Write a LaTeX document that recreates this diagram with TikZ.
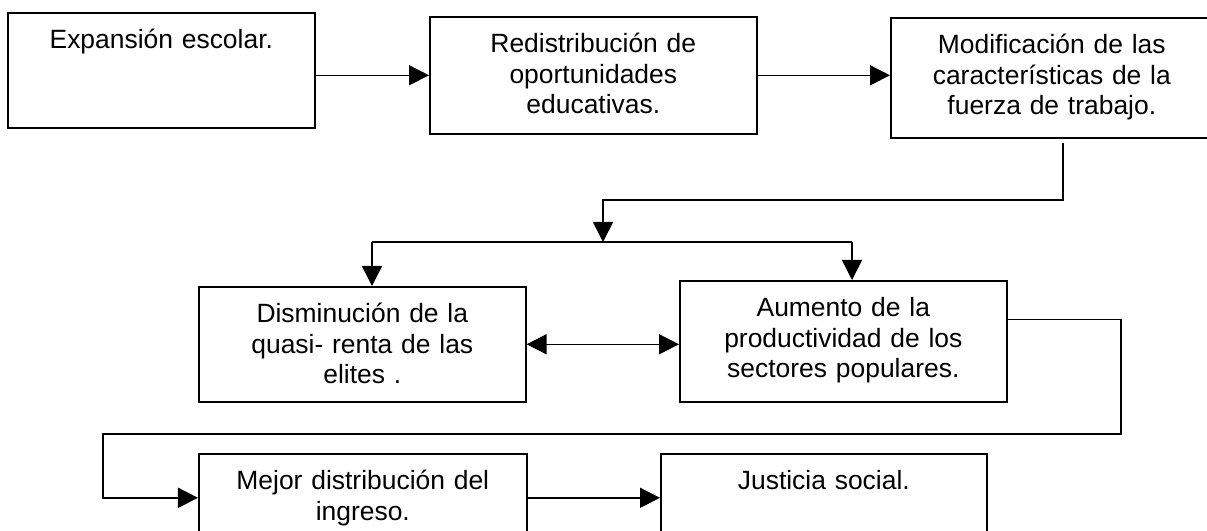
\documentclass[tikz,border=0pt]{standalone}
\usepackage{fontspec}
\setmainfont{Liberation Sans}
\usetikzlibrary{arrows.meta}

\tikzset{
  box/.style={draw, rectangle, line width=1.1pt, anchor=north west, align=center,
    inner xsep=0pt, inner ysep=0pt, text height=0.9cm,
    font=\fontsize{18.8pt}{21.7pt}\selectfont},
  arr/.style={-{Triangle[length=0.5cm, width=0.5cm]}, line width=1.1pt},
  biarr/.style={{Triangle[length=0.5cm, width=0.5cm]}-{Triangle[length=0.5cm, width=0.5cm]}, line width=1.1pt}
}

\begin{document}
\begin{tikzpicture}[x=0.025cm, y=-0.025cm]
    \clip (0,0) rectangle (1207,531);

    \node (EXP_ESC) [box, text width=7.675cm, text depth=1.975cm] at (7,12) {Expansión escolar.};
    \node (RED_OPO) [box, text width=8.175cm, text depth=2.025cm] at (429,16) {Redistribución de\\oportunidades\\educativas.};
    \node (MOD_FUE) [box, text width=8.05cm, text depth=2.1cm] at (890,17) {Modificación de las\\características de la\\fuerza de trabajo.};

    \node (DIS_QUA) [box, text width=8.175cm, text depth=1.975cm] at (198,286) {Disminución de la\\quasi- renta de las\\elites .};
    \node (AUM_PRO) [box, text width=8.175cm, text depth=2.125cm] at (679,280) {Aumento de la\\productividad de los\\sectores populares.};

    \node (MEJ_DIS) [box, text width=8.2cm, text depth=1.3cm] at (198,453) {Mejor distribución del\\ingreso.};
    \node (JUS_SOC) [box, text width=8.15cm, text depth=1.3cm] at (660,453) {Justicia social.};

    \draw [arr] (EXP_ESC.east |- RED_OPO.west) -- (RED_OPO.west);
    \draw [arr] (RED_OPO.east) -- (RED_OPO.east -| MOD_FUE.west);

    \coordinate (MOD_OUT) at (1063,143);
    \coordinate (SPLIT) at (603,242);
    \coordinate (BR_L) at (372,242);
    \coordinate (BR_R) at (852,242);

    \draw [arr] (MOD_OUT) -- ++(0,57) -| (SPLIT);
    \draw [line width=1.1pt] (BR_L) -- (BR_R);
    \draw [arr] (BR_L) -- (BR_L |- DIS_QUA.north);
    \draw [arr] (BR_R) -- (BR_R |- AUM_PRO.north);

    \draw [biarr] (DIS_QUA.east) -- (DIS_QUA.east -| AUM_PRO.west);

    \coordinate (LOOP_R) at (1121,434);
    \coordinate (LOOP_L) at (103,434);
    \draw [arr] ([yshift=0.54cm]AUM_PRO.east) -| (LOOP_R) -- (LOOP_L) |- (MEJ_DIS.west);

    \draw [arr] (MEJ_DIS.east) -- (MEJ_DIS.east -| JUS_SOC.west);

\end{tikzpicture}
\end{document}
